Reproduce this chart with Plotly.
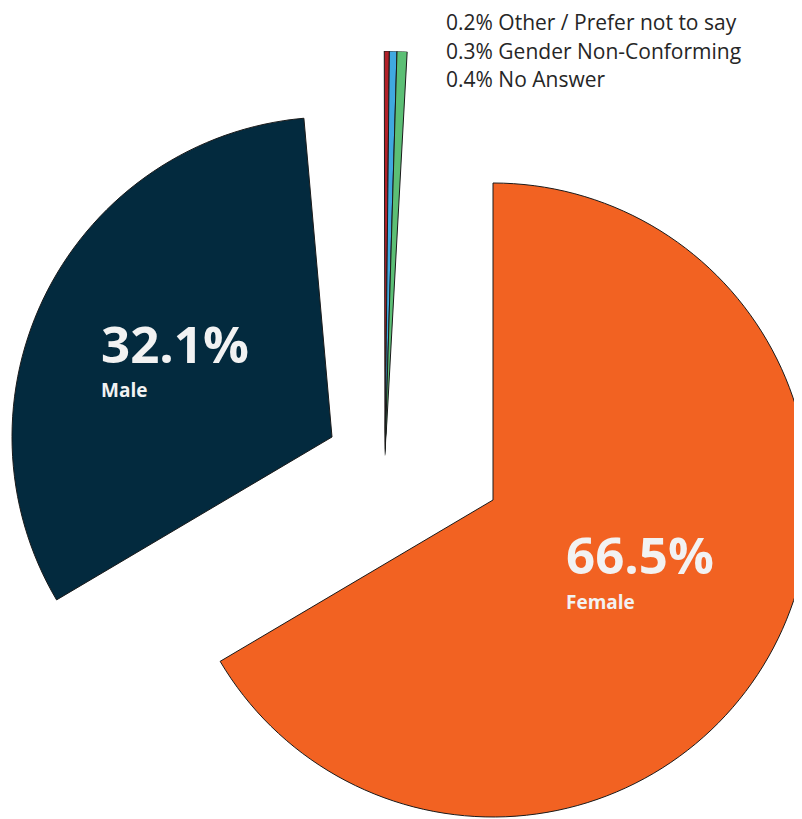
import math
import plotly.graph_objects as go

# ---------------- data ----------------
labels = ["Female", "Male", "Other / Prefer not to say", "Gender Non-Conforming", "No Answer"]
values = [66.5, 32.1, 0.2, 0.3, 0.4]
colors = ["#F26222", "#032A3E", "#B22129", "#40A9E0", "#5CBF75"]

# ---------------- layout helpers ----------------
W, H = 802, 819
TRANSP = "rgba(0,0,0,0)"
OUTLINE = "#1a1a1a"


def dom(cx, cy, r):
    """square pie domain (paper fractions) for a pie centred at pixel (cx, cy) with radius r"""
    return dict(x=[max(0, (cx - r) / W), min(1, (cx + r) / W)],
                y=[max(0, 1 - (cy + r) / H), min(1, 1 - (cy - r) / H)])


rest = 100 - sum(values)
pie_values = values + [rest]
pie_labels = labels + [""]

fig = go.Figure()

# one pie trace per exploded group (other slices transparent)
groups = [
    (0, (485, 492, 317)),   # Female
    (1, (324, 429, 320)),   # Male
]
for idx, (cx, cy, r) in groups:
    cols = [colors[i] if i == idx else TRANSP for i in range(len(pie_values))]
    widths = [1 if i == idx else 0 for i in range(len(pie_values))]
    fig.add_trace(go.Pie(
        labels=pie_labels, values=pie_values, sort=False, direction="clockwise",
        rotation=0, textinfo="none", hoverinfo="label+percent",
        marker=dict(colors=cols, line=dict(color=OUTLINE, width=widths)),
        domain=dom(cx, cy, r), showlegend=False,
    ))

# tiny slices: drawn as polar bars in a narrow sector (long exploded wedge)
small_vals = values[2:]
small_cols = colors[2:]
small_start = -0.1
thetas, widths_deg = [], []
acc = small_start
for v in small_vals:
    w = v * 3.6
    thetas.append(acc + w / 2)
    widths_deg.append(w)
    acc += w

fig.add_trace(go.Barpolar(
    r=[1] * len(small_vals), theta=thetas, width=widths_deg,
    marker=dict(color=small_cols, line=dict(color=OUTLINE, width=1)),
    text=labels[2:], hoverinfo="text", showlegend=False, subplot="polar",
))

sec = [85, 92]
vx, vy, R = 377, 448, 405
bx0 = math.cos(math.radians(sec[1]))
bx1 = math.cos(math.radians(sec[0]))
polar_dom = dict(x=[(vx + R * bx0) / W, (vx + R * bx1) / W],
                 y=[1 - vy / H, 1 - (vy - R) / H])

fig.update_layout(
    polar=dict(
        domain=polar_dom, sector=sec, bgcolor=TRANSP, hole=0,
        angularaxis=dict(visible=False, rotation=90, direction="clockwise"),
        radialaxis=dict(visible=False, range=[0, 1]),
    )
)

# ---------------- labels ----------------
ann = []
big = [
    (f"{values[1]}%", labels[1], 91, 335, 381.5),
    (f"{values[0]}%", labels[0], 556, 546, 594),
]
for pct, name, x, y1, y2 in big:
    ann.append(dict(text=pct, x=x / W, y=1 - y1 / H, xref="paper", yref="paper",
                    xanchor="left", yanchor="middle", showarrow=False,
                    font=dict(family="Open Sans", size=51, color="#F2F2F2", weight="bold")))
    ann.append(dict(text=name, x=x / W, y=1 - y2 / H, xref="paper", yref="paper",
                    xanchor="left", yanchor="middle", showarrow=False,
                    font=dict(family="Open Sans", size=19, color="#F2F2F2", weight="bold")))

ys = [14, 42.5, 71]
for v, name, y in zip(small_vals, labels[2:], ys):
    ann.append(dict(text=f"{v}% {name}", x=436 / W, y=1 - y / H, xref="paper", yref="paper",
                    xanchor="left", yanchor="middle", showarrow=False,
                    font=dict(family="Open Sans", size=21, color="#262626")))

fig.update_layout(
    width=W, height=H, margin=dict(l=0, r=0, t=0, b=0),
    paper_bgcolor="white", plot_bgcolor="white",
    annotations=ann, showlegend=False,
)

fig.write_html("out.html")
